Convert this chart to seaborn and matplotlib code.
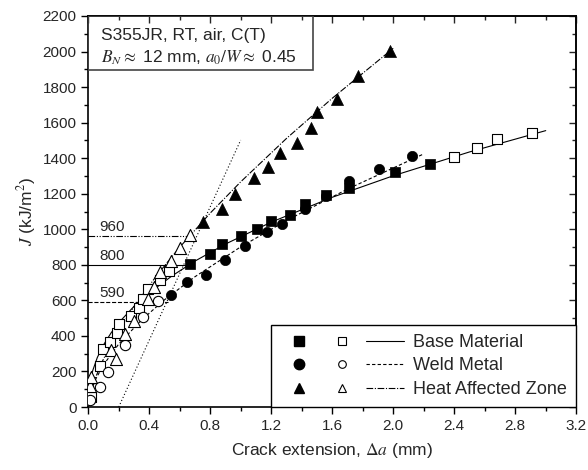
import numpy as np
import matplotlib
matplotlib.use("Agg")
import matplotlib.pyplot as plt
import seaborn as sns
from matplotlib.lines import Line2D
from matplotlib.legend_handler import HandlerTuple
from matplotlib.patches import Rectangle

sns.set_theme(style="ticks")
plt.rcParams['font.family'] = ['Liberation Sans', 'DejaVu Sans']
plt.rcParams['mathtext.fontset'] = 'stix'

# --- data (crack extension in mm, J in kJ/m2) ---
# base material
bm_open_x = [0.02, 0.08, 0.10, 0.14, 0.19, 0.20, 0.28, 0.33, 0.36, 0.39, 0.47, 0.53, 2.40, 2.55, 2.68, 2.91]
bm_open_j = [58, 230, 325, 367, 415, 465, 512, 558, 608, 662, 715, 767, 1408, 1457, 1506, 1543]
bm_fill_x = [0.67, 0.80, 0.88, 1.00, 1.11, 1.20, 1.32, 1.42, 1.56, 1.71, 2.01, 2.24]
bm_fill_j = [805, 863, 918, 960, 1003, 1047, 1081, 1144, 1191, 1235, 1324, 1369]
bm_fit_x = [0.002, 0.01, 0.03, 0.06, 0.1, 0.15, 0.2, 0.3, 0.4, 0.55, 0.7, 0.9, 1.2, 1.6, 2.0, 2.5, 3.0]
bm_fit_j = [63, 127, 206, 279, 349, 417, 474, 566, 642, 738, 821, 917, 1040, 1180, 1301, 1435, 1555]

# weld metal
wm_open_x = [0.01, 0.08, 0.13, 0.24, 0.36, 0.46]
wm_open_j = [39, 111, 195, 347, 508, 595]
wm_fill_x = [0.54, 0.65, 0.77, 0.90, 1.03, 1.17, 1.27, 1.42, 1.56, 1.71, 1.91, 2.12]
wm_fill_j = [630, 705, 745, 827, 906, 987, 1027, 1112, 1189, 1272, 1337, 1414]
wm_fit_x = [0.02, 0.05, 0.1, 0.2, 0.35, 0.5, 0.7, 1.0, 1.3, 1.7, 2.2]
wm_fit_j = [93, 158, 237, 354, 490, 603, 733, 901, 1049, 1226, 1424]

# heat affected zone
haz_open_x = [0.01, 0.02, 0.15, 0.18, 0.24, 0.30, 0.39, 0.43, 0.47, 0.54, 0.60, 0.67]
haz_open_j = [120, 168, 320, 272, 412, 482, 610, 678, 757, 823, 892, 966]
haz_fill_x = [0.75, 0.88, 0.96, 1.09, 1.18, 1.26, 1.37, 1.46, 1.50, 1.63, 1.77, 1.98]
haz_fill_j = [1043, 1112, 1199, 1290, 1352, 1431, 1487, 1568, 1662, 1733, 1864, 2005]
haz_fit_x = [0.01, 0.05, 0.1, 0.2, 0.3, 0.45, 0.6, 0.8, 1.0, 1.3, 1.6, 2.0]
haz_fit_j = [58, 170, 270, 430, 565, 741, 899, 1091, 1267, 1511, 1737, 2018]

# 0.2 mm offset line
offset_x = [0.2, 1.0]
offset_j = [0, 1502]

# initiation values
ji_values = [590, 800, 960]
ji_end_x = [0.52, 0.67, 0.67]
ji_styles = ['--', '-', (0, (6, 1.5, 1, 1.5, 1, 1.5))]

labels = ['Base Material', 'Weld Metal', 'Heat Affected Zone']

fig, ax = plt.subplots(figsize=(5.88, 4.70), dpi=100)
fig.subplots_adjust(left=0.150, right=0.980, bottom=0.134, top=0.966)

lw = 0.8
dashdot = (0, (6, 1.5, 1, 1.5))
sns.lineplot(x=bm_fit_x, y=bm_fit_j, ax=ax, color='black', lw=lw, sort=False, estimator=None)
sns.lineplot(x=wm_fit_x, y=wm_fit_j, ax=ax, color='black', lw=lw, linestyle=(0, (3, 2)), sort=False, estimator=None)
sns.lineplot(x=haz_fit_x, y=haz_fit_j, ax=ax, color='black', lw=lw, linestyle=dashdot, sort=False, estimator=None)
sns.lineplot(x=offset_x, y=offset_j, ax=ax, color='black', lw=lw, linestyle=(0, (1, 2)), sort=False, estimator=None)

for v, xe, ls in zip(ji_values, ji_end_x, ji_styles):
    sns.lineplot(x=[0, xe], y=[v, v], ax=ax, color='black', lw=lw, linestyle=ls, sort=False, estimator=None)
    ax.text(0.07, v + 12, str(v), fontsize=11, va='bottom', ha='left')

ms = 55
sns.scatterplot(x=bm_open_x, y=bm_open_j, ax=ax, marker='s', s=ms, facecolor='white', edgecolor='black', linewidth=0.8, zorder=3)
sns.scatterplot(x=bm_fill_x, y=bm_fill_j, ax=ax, marker='s', s=ms, color='black', edgecolor='black', linewidth=0.5, zorder=3)
sns.scatterplot(x=wm_open_x, y=wm_open_j, ax=ax, marker='o', s=ms, facecolor='white', edgecolor='black', linewidth=0.8, zorder=3)
sns.scatterplot(x=wm_fill_x, y=wm_fill_j, ax=ax, marker='o', s=ms, color='black', edgecolor='black', linewidth=0.5, zorder=3)
sns.scatterplot(x=haz_open_x, y=haz_open_j, ax=ax, marker='^', s=ms + 20, facecolor='white', edgecolor='black', linewidth=0.8, zorder=3)
sns.scatterplot(x=haz_fill_x, y=haz_fill_j, ax=ax, marker='^', s=ms + 20, color='black', edgecolor='black', linewidth=0.5, zorder=3)

ax.set_xlim(0, 3.2)
ax.set_ylim(0, 2200)
ax.set_xticks(np.arange(0, 3.21, 0.4))
ax.set_xticks(np.arange(0, 3.21, 0.2), minor=True)
ax.set_yticks(np.arange(0, 2201, 200))
ax.set_yticks(np.arange(0, 2201, 100), minor=True)
ax.xaxis.set_major_formatter(matplotlib.ticker.FormatStrFormatter('%.1f'))
ax.tick_params(which='both', direction='out', labelsize=11, color='black', width=1)
ax.tick_params(which='major', length=5)
ax.tick_params(which='minor', length=3)
for sp in ax.spines.values():
    sp.set_visible(True)
    sp.set_color('black')
    sp.set_linewidth(1.2)

# inward ticks on top and right
secx = ax.secondary_xaxis('top')
secx.set_xticks(np.arange(0, 3.21, 0.4))
secx.set_xticks(np.arange(0, 3.21, 0.2), minor=True)
secx.tick_params(which='both', direction='in', labeltop=False, width=1)
secx.tick_params(which='major', length=5)
secx.tick_params(which='minor', length=3)
secy = ax.secondary_yaxis('right')
secy.set_yticks(np.arange(0, 2201, 200))
secy.set_yticks(np.arange(0, 2201, 100), minor=True)
secy.tick_params(which='both', direction='in', labelright=False, width=1)
secy.tick_params(which='major', length=5)
secy.tick_params(which='minor', length=3)

ax.set_xlabel(r'Crack extension, $\Delta a$ (mm)', fontsize=12.5, labelpad=6)
ax.set_ylabel(r'$J$ (kJ/m$^2$)', fontsize=12.5, labelpad=3)

# info box
ax.add_patch(Rectangle((0, 0.862), 0.461, 0.138, transform=ax.transAxes, fill=False,
                       edgecolor='#444444', lw=1.2, zorder=4))
ax.text(0.027, 0.95, 'S355JR, RT, air, C(T)', transform=ax.transAxes, fontsize=12.5, va='center')
ax.text(0.027, 0.893, r'$B_N \approx$ 12 mm, $a_0/W \approx$ 0.45', transform=ax.transAxes, fontsize=12.5, va='center')

# legend: filled marker, open marker, line
handles = []
for mk, ls in zip(['s', 'o', '^'], ['-', (0, (3, 2)), dashdot]):
    filled = Line2D([], [], marker=mk, color='black', linestyle='none', markersize=7.5)
    hollow = Line2D([], [], marker=mk, markerfacecolor='white', markeredgecolor='black',
                    linestyle='none', markersize=5.5, markeredgewidth=0.8)
    line = Line2D([], [], color='black', lw=lw, linestyle=ls)
    handles.append((filled, hollow, line))
leg = ax.legend(handles, labels, handler_map={tuple: HandlerTuple(ndivide=None, pad=0.3)},
                loc='lower right', borderaxespad=0, fontsize=13, handlelength=6.9,
                handletextpad=0.5, labelspacing=0.36, borderpad=0.5, numpoints=1,
                fancybox=False, framealpha=1)
leg.get_frame().set_edgecolor('black')
leg.get_frame().set_linewidth(1.0)

fig.savefig('out.png', dpi=100)
